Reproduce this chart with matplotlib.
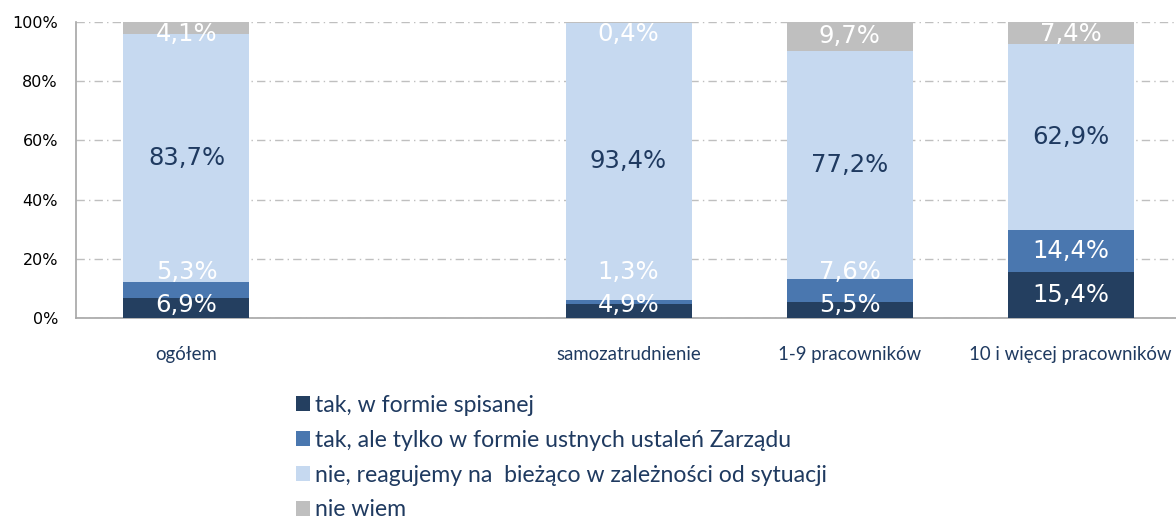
import matplotlib
matplotlib.use('Agg')
import matplotlib.pyplot as plt
from matplotlib.patches import Patch
from matplotlib import font_manager

# Chart data
categories = ['ogółem', '', 'samozatrudnienie', '1-9 pracowników', '10 i więcej pracowników']
positions = [0, 2, 3, 4]
series_names = ['tak, w formie spisanej',
                'tak, ale tylko w formie ustnych ustaleń Zarządu',
                'nie, reagujemy na  bieżąco w zależności od sytuacji',
                'nie wiem']
written = [6.9, 4.9, 5.5, 15.4]
oral = [5.3, 1.3, 7.6, 14.4]
ad_hoc = [83.7, 93.4, 77.2, 62.9]
dont_know = [4.1, 0.4, 9.7, 7.4]
y_ticks = [0, 20, 40, 60, 80, 100]

colors = ['#243F60', '#4A77AF', '#C6D9F0', '#BFBFBF']
label_colors = ['white', 'white', '#1F3A60', 'white']
navy = '#1F3A60'

names = {f.name for f in font_manager.fontManager.ttflist}
ui_font = 'Lato' if 'Lato' in names else 'DejaVu Sans'

fig = plt.figure(figsize=(11.76, 5.21), dpi=100)
ax = fig.add_axes([0.0646, 0.3896, 0.9397, 0.5682])

series = [written, oral, ad_hoc, dont_know]
bottoms = [0.0] * len(positions)
for vals, col, name in zip(series, colors, series_names):
    ax.bar(positions, vals, width=0.57, bottom=bottoms, color=col,
           edgecolor='none', label=name, zorder=3)
    bottoms = [b + v for b, v in zip(bottoms, vals)]

# data labels: segment centres, nudged apart like the original
for i, x in enumerate(positions):
    base = 0.0
    prev = None
    for k, vals in enumerate(series):
        v = vals[i]
        y = base + v / 2
        y = max(y, 4.5)
        if prev is not None and k < 3:
            y = max(y, prev + 11)
        y = min(y, 96)
        prev = y
        base += v
        ax.text(x, y, f'{v:.1f}%'.replace('.', ','), ha='center', va='center',
                fontsize=17.5, color=label_colors[k], family='DejaVu Sans', zorder=4)

ax.set_xlim(-0.5, 4.5)
ax.set_ylim(0, 100)
ax.set_yticks(y_ticks)
ax.set_yticklabels([f'{t}%' for t in y_ticks], fontsize=11.5, family='DejaVu Sans')
ax.set_xticks(range(len(categories)))
ax.set_xticklabels(categories, fontsize=13.4, family=ui_font, color=navy)
ax.tick_params(axis='both', length=0)
ax.tick_params(axis='x', pad=20)
ax.tick_params(axis='y', pad=13)

ax.grid(axis='y', color='#BFBFBF', linestyle=(0, (6, 3, 1, 3)), linewidth=1, zorder=0)
for s in ['top', 'right']:
    ax.spines[s].set_visible(False)
for s in ['left', 'bottom']:
    ax.spines[s].set_color('#A6A6A6')
    ax.spines[s].set_linewidth(1.2)

handles = [Patch(facecolor=c, edgecolor='none') for c in colors]
leg = fig.legend(handles, series_names, loc='upper left', bbox_to_anchor=(0.252, 0.242),
                 frameon=False, prop={'family': ui_font, 'size': 16.6},
                 handlelength=0.6, handleheight=0.6, handletextpad=0.2,
                 labelspacing=0.6, borderaxespad=0, borderpad=0)
for t in leg.get_texts():
    t.set_color(navy)

fig.savefig('out.png', dpi=100)
